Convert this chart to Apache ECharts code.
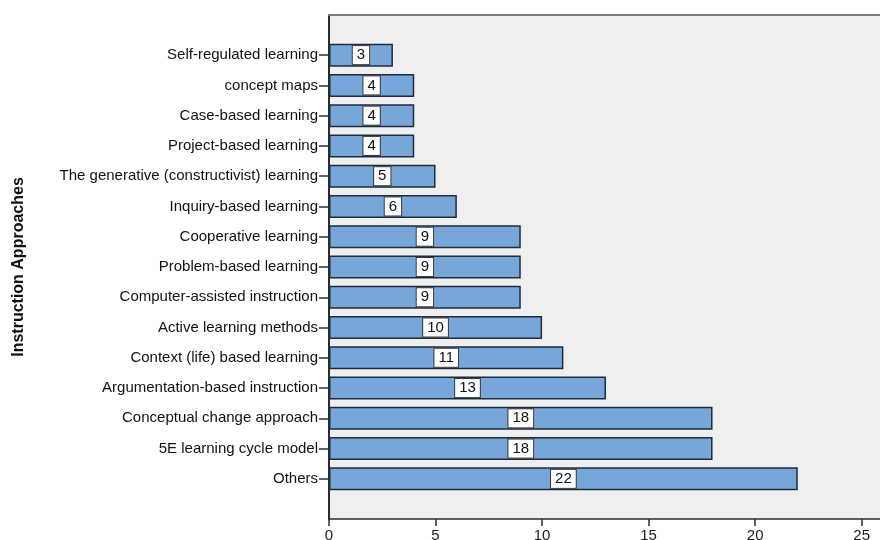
<!DOCTYPE html>
<html>
<head>
<meta charset="utf-8">
<style>
  html, body { margin: 0; padding: 0; background: #ffffff; }
  #chart { width: 880px; height: 540px; }
</style>
<script src="https://cdn.jsdelivr.net/npm/echarts@6/dist/echarts.min.js"></script>
</head>
<body>
<div id="chart"></div>
<script>
// Instruction approaches and how many studies used each
const approaches = [
  'Self-regulated learning',
  'concept maps',
  'Case-based learning',
  'Project-based learning',
  'The generative (constructivist) learning',
  'Inquiry-based learning',
  'Cooperative learning',
  'Problem-based learning',
  'Computer-assisted instruction',
  'Active learning methods',
  'Context (life) based learning',
  'Argumentation-based instruction',
  'Conceptual change approach',
  '5E learning cycle model',
  'Others'
];
const counts = [3, 4, 4, 4, 5, 6, 9, 9, 9, 10, 11, 13, 18, 18, 22];
const xTicks = [0, 5, 10, 15, 20, 25];

const FONT = '"Liberation Sans", Arial, sans-serif';
const X_MAX = 26;
const PLOT_LEFT = 329;
const PLOT_WIDTH = 554;   // panel runs a little past the right edge

const chart = echarts.init(document.getElementById('chart'), null, { renderer: 'canvas' });

chart.setOption({
  animation: false,
  backgroundColor: '#ffffff',
  grid: [
    // bars
    { left: PLOT_LEFT, width: PLOT_WIDTH, top: 40, bottom: 46,
      outerBoundsMode: 'none', containLabel: false },
    // plot frame with grey panel
    { left: PLOT_LEFT, width: PLOT_WIDTH, top: 15, bottom: 21,
      outerBoundsMode: 'none', containLabel: false,
      show: true, backgroundColor: '#efefef', borderWidth: 0 }
  ],
  xAxis: [
    { gridIndex: 0, type: 'value', min: 0, max: X_MAX, show: false },
    {
      gridIndex: 1, type: 'value', min: 0, max: X_MAX, interval: 5,
      axisLine: { show: true, lineStyle: { color: '#2b2b2b', width: 1.5 } },
      axisTick: { show: true, length: 7, lineStyle: { color: '#2b2b2b', width: 1.5 } },
      splitLine: { show: false },
      axisLabel: {
        margin: 9, color: '#1a1a1a', fontFamily: FONT, fontSize: 15,
        formatter: v => (xTicks.indexOf(v) >= 0 ? String(v) : '')
      }
    },
    {
      gridIndex: 1, type: 'value', min: 0, max: X_MAX, position: 'top',
      axisLine: { show: true, lineStyle: { color: '#7d7d7d', width: 2 } },
      axisTick: { show: false }, axisLabel: { show: false }, splitLine: { show: false }
    }
  ],
  yAxis: [
    {
      gridIndex: 0, type: 'category', data: approaches, inverse: true,
      axisLine: { show: false },
      axisTick: { show: true, alignWithLabel: true, length: 10,
                  lineStyle: { color: '#2b2b2b', width: 1.5 } },
      axisLabel: { margin: 11, color: '#111', fontFamily: FONT, fontSize: 15 },
      name: 'Instruction Approaches',
      nameLocation: 'middle',
      nameGap: 302,
      nameTextStyle: { fontFamily: FONT, fontWeight: 'bold', fontSize: 16, color: '#111' }
    },
    {
      gridIndex: 1, type: 'value', min: 0, max: 1,
      axisLine: { show: true, lineStyle: { color: '#2b2b2b', width: 2 } },
      axisTick: { show: false }, axisLabel: { show: false }, splitLine: { show: false }
    }
  ],
  series: [{
    type: 'bar',
    xAxisIndex: 0,
    yAxisIndex: 0,
    data: counts,
    barCategoryGap: '24%',
    z: 5,
    itemStyle: { color: '#77a6d8', borderColor: '#1e2c3e', borderWidth: 1.5 },
    label: {
      show: true,
      position: 'inside',
      color: '#111',
      fontFamily: FONT,
      fontSize: 15,
      backgroundColor: '#ffffff',
      borderColor: '#3a3a3a',
      borderWidth: 1,
      padding: [2, 4, 1, 4]
    }
  }]
});
</script>
</body>
</html>
